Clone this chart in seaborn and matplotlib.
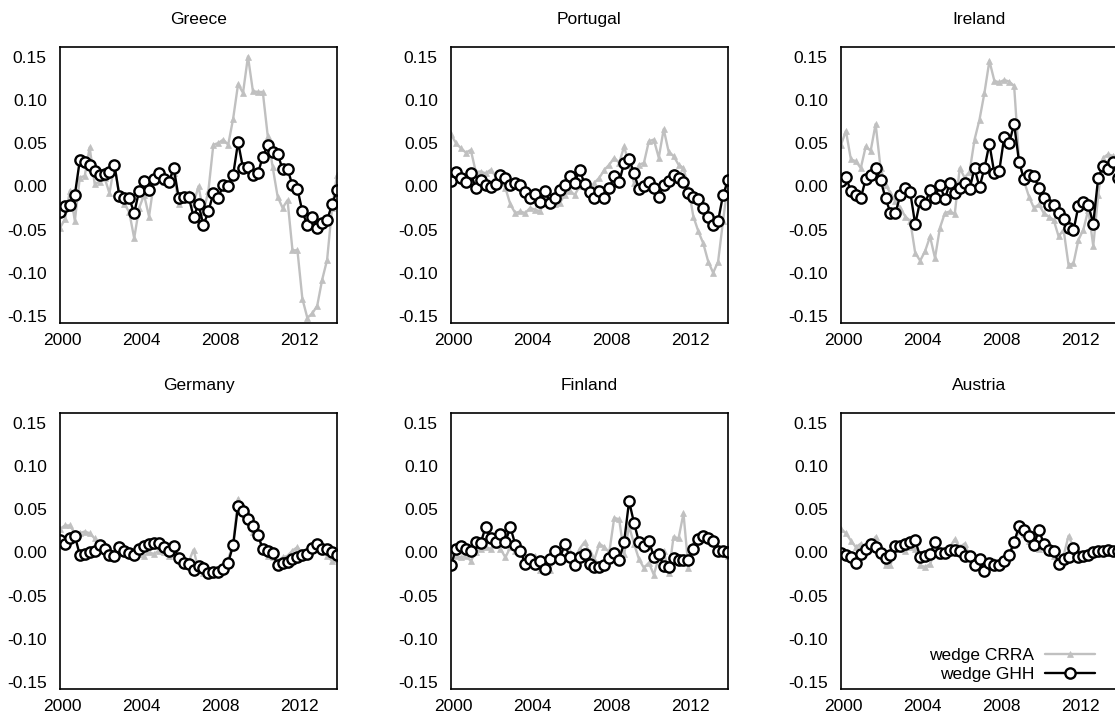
import numpy as np
import matplotlib
matplotlib.use("Agg")
import matplotlib.pyplot as plt
from matplotlib.ticker import FormatStrFormatter
from matplotlib.transforms import ScaledTranslation
import seaborn as sns

# Quarterly observations, 2000Q1 .. 2014Q1
quarters = 2000 + np.arange(57) / 4

greece_crra = [-0.048, -0.038, -0.005, -0.040, 0.010, 0.012, 0.045, 0.003, 0.005, 0.010,
               -0.008, 0.025, -0.010, -0.020, -0.030, -0.060, -0.025, -0.010, -0.035, 0.005,
               0.010, 0.005, 0.005, 0.015, -0.020, -0.010, -0.008, -0.020, 0.000, -0.030,
               -0.005, 0.048, 0.050, 0.054, 0.048, 0.078, 0.118, 0.108, 0.150, 0.110,
               0.109, 0.109, 0.058, 0.022, -0.012, -0.025, -0.016, -0.074, -0.074, -0.130,
               -0.152, -0.147, -0.138, -0.108, -0.085, -0.025, 0.013]
greece_ghh = [-0.030, -0.023, -0.022, -0.010, 0.030, 0.028, 0.025, 0.018, 0.0135, 0.014,
              0.017, 0.025, -0.011, -0.0135, -0.0135, -0.031, -0.005, 0.006, -0.004, 0.008,
              0.015, 0.009, 0.005, 0.021, -0.0135, -0.012, -0.012, -0.035, -0.021, -0.045,
              -0.029, -0.008, -0.0135, 0.002, 0.000, 0.013, 0.051, 0.021, 0.022, 0.013,
              0.015, 0.034, 0.048, 0.040, 0.037, 0.020, 0.020, 0.001, -0.003, -0.029,
              -0.045, -0.035, -0.048, -0.042, -0.039, -0.021, -0.004]

portugal_crra = [0.060, 0.050, 0.044, 0.039, 0.042, 0.017, 0.017, 0.015, 0.019, 0.012,
                 0.010, -0.002, -0.021, -0.031, -0.029, -0.031, -0.025, -0.027, -0.029, -0.015,
                 -0.019, -0.021, -0.019, -0.010, -0.005, -0.010, 0.000, 0.004, -0.004, 0.004,
                 0.010, 0.019, 0.025, 0.033, 0.027, 0.046, 0.025, 0.004, 0.025, 0.027,
                 0.052, 0.054, 0.033, 0.066, 0.040, 0.035, 0.025, 0.021, -0.002, -0.035,
                 -0.052, -0.066, -0.087, -0.100, -0.087, -0.040, 0.005]
portugal_ghh = [0.0066, 0.017, 0.010, 0.005, 0.015, -0.002, 0.007, 0.002, -0.001, 0.003,
                0.013, 0.010, 0.001, 0.004, 0.001, -0.007, -0.014, -0.009, -0.018, -0.005,
                -0.019, -0.0135, -0.004, 0.002, 0.012, 0.004, 0.019, 0.003, -0.007, -0.013,
                -0.005, -0.0135, -0.002, 0.012, 0.005, 0.027, 0.032, 0.015, -0.003, 0.000,
                0.005, -0.002, -0.012, 0.001, 0.006, 0.013, 0.010, 0.005, -0.008, -0.012,
                -0.015, -0.025, -0.036, -0.045, -0.040, -0.010, 0.007]

ireland_crra = [0.048, 0.064, 0.031, 0.029, 0.021, 0.046, 0.041, 0.072, 0.021, 0.002,
                -0.008, -0.017, -0.025, -0.035, -0.040, -0.077, -0.086, -0.075, -0.058, -0.083,
                -0.048, -0.031, -0.029, -0.032, 0.021, 0.010, 0.017, 0.054, 0.077, 0.108,
                0.145, 0.122, 0.120, 0.123, 0.121, 0.116, 0.031, 0.006, -0.012, -0.025,
                -0.021, -0.031, -0.035, -0.039, -0.058, -0.050, -0.091, -0.089, -0.062, -0.050,
                -0.027, -0.069, -0.010, 0.033, 0.037, 0.035, 0.035]
ireland_ghh = [0.006, 0.011, -0.006, -0.010, -0.0135, 0.008, 0.0135, 0.021, 0.007, -0.0135,
               -0.031, -0.031, -0.010, -0.002, -0.007, -0.044, -0.017, -0.020, -0.004, -0.0135,
               0.002, -0.015, 0.004, -0.008, -0.002, 0.004, -0.003, 0.021, -0.001, 0.021,
               0.049, 0.015, 0.018, 0.057, 0.050, 0.072, 0.028, 0.008, 0.013, 0.012,
               -0.002, -0.013, -0.022, -0.022, -0.031, -0.038, -0.048, -0.051, -0.023, -0.018,
               -0.022, -0.043, 0.010, 0.024, 0.020, 0.028, 0.010]

germany_crra = [0.027, 0.031, 0.031, 0.022, 0.022, 0.024, 0.022, 0.016, 0.008, 0.004,
                -0.002, -0.004, 0.004, 0.000, -0.001, -0.004, -0.002, -0.004, 0.000, -0.002,
                0.002, 0.000, -0.004, -0.002, -0.006, -0.010, -0.011, 0.003, -0.020, -0.024,
                -0.022, -0.020, -0.020, -0.016, -0.008, 0.010, 0.062, 0.054, 0.042, 0.024,
                0.020, 0.002, -0.004, -0.006, -0.010, -0.006, -0.004, 0.002, 0.006, -0.002,
                -0.002, 0.004, 0.008, 0.006, -0.004, -0.010, -0.008]
germany_ghh = [0.014, 0.010, 0.017, 0.019, -0.003, -0.002, 0.000, 0.002, 0.008, 0.004,
               -0.003, -0.004, 0.006, 0.001, -0.001, -0.003, 0.004, 0.007, 0.010, 0.011,
               0.011, 0.006, 0.002, 0.007, -0.007, -0.012, -0.013, -0.021, -0.016, -0.018,
               -0.024, -0.023, -0.023, -0.019, -0.012, 0.008, 0.054, 0.048, 0.039, 0.030,
               0.020, 0.004, 0.001, -0.001, -0.015, -0.012, -0.011, -0.008, -0.006, -0.003,
               -0.002, 0.005, 0.010, 0.004, 0.004, 0.000, -0.003]

finland_crra = [0.000, -0.004, -0.006, -0.004, -0.010, 0.000, 0.004, 0.006, 0.004, 0.008,
                0.004, -0.006, 0.006, 0.002, 0.000, -0.004, -0.006, -0.004, -0.020, -0.022,
                -0.020, -0.006, -0.008, -0.004, 0.000, -0.008, 0.004, 0.012, 0.000, -0.008,
                0.010, 0.006, 0.000, 0.040, 0.038, -0.002, 0.030, 0.010, -0.008, -0.018,
                -0.012, -0.026, -0.006, 0.002, -0.024, 0.018, 0.016, 0.045, -0.018, 0.010,
                0.020, 0.022, 0.016, 0.012, 0.004, 0.000, -0.004]
finland_ghh = [-0.015, 0.004, 0.007, 0.004, 0.002, 0.012, 0.011, 0.029, 0.016, 0.012,
               0.021, 0.012, 0.029, 0.009, 0.002, -0.0135, -0.008, -0.0135, -0.010, -0.019,
               -0.008, 0.001, -0.008, 0.010, -0.006, -0.015, -0.005, -0.002, -0.0135, -0.017,
               -0.017, -0.015, -0.007, -0.001, -0.009, 0.012, 0.059, 0.034, 0.012, 0.007,
               0.0135, -0.005, -0.002, -0.016, -0.017, -0.007, -0.009, -0.009, -0.009, 0.004,
               0.015, 0.019, 0.017, 0.0135, 0.001, 0.001, 0.000]

austria_crra = [0.027, 0.022, 0.0135, 0.006, 0.010, 0.006, 0.008, 0.018, -0.002, -0.015,
                -0.015, 0.006, 0.004, 0.002, 0.006, 0.004, -0.015, -0.017, -0.0135, 0.002,
                -0.004, 0.002, 0.006, 0.015, 0.006, 0.010, -0.004, -0.010, -0.006, -0.017,
                -0.010, -0.010, -0.012, -0.006, -0.002, 0.008, 0.027, 0.021, 0.0135, 0.010,
                0.004, 0.006, 0.010, -0.004, -0.008, -0.004, 0.019, 0.006, 0.002, -0.002,
                -0.004, 0.002, 0.000, 0.000, 0.002, 0.000, 0.002]
austria_ghh = [-0.001, -0.003, -0.006, -0.012, -0.002, 0.004, 0.010, 0.006, -0.001, -0.007,
               -0.003, 0.007, 0.007, 0.010, 0.012, 0.014, -0.005, -0.004, -0.002, 0.012,
               -0.001, -0.001, 0.003, 0.003, 0.001, -0.004, -0.004, -0.015, -0.008, -0.022,
               -0.012, -0.015, -0.015, -0.010, -0.003, 0.012, 0.030, 0.026, 0.019, 0.008,
               0.026, 0.010, 0.003, 0.002, -0.013, -0.008, -0.005, 0.005, -0.006, -0.004,
               -0.003, 0.000, 0.002, 0.002, 0.003, 0.001, 0.001]

countries = ["Greece", "Portugal", "Ireland", "Germany", "Finland", "Austria"]
crra_series = [greece_crra, portugal_crra, ireland_crra, germany_crra, finland_crra, austria_crra]
ghh_series = [greece_ghh, portugal_ghh, ireland_ghh, germany_ghh, finland_ghh, austria_ghh]
year_ticks = [2000, 2004, 2008, 2012]
wedge_ticks = [-0.15, -0.10, -0.05, 0.00, 0.05, 0.10, 0.15]
legend_labels = ["wedge CRRA", "wedge GHH"]

sns.set_style("white")
plt.rcParams["font.family"] = ["Liberation Sans", "DejaVu Sans"]
plt.rcParams["axes.unicode_minus"] = False

W, H = 1115, 715
fig = plt.figure(figsize=(W / 100, H / 100), dpi=100)

col_left = [60, 451, 841]
row_top = [47, 413]
ax_w, ax_h = 277, 276
fs = 12.5

gray = "#c0c0c0"
for k, name in enumerate(countries):
    r, c = divmod(k, 3)
    left = col_left[c] / W
    bottom = (H - row_top[r] - ax_h) / H
    ax = fig.add_axes([left, bottom, ax_w / W, ax_h / H])

    sns.lineplot(x=quarters, y=crra_series[k], ax=ax, color=gray, lw=1.7,
                 marker="^", markersize=5, markerfacecolor=gray,
                 markeredgecolor=gray, markeredgewidth=0.5, legend=False)
    sns.lineplot(x=quarters, y=ghh_series[k], ax=ax, color="black", lw=1.7,
                 marker="o", markersize=7.4, markerfacecolor="white",
                 markeredgecolor="black", markeredgewidth=1.7, legend=False)

    ax.set_xlim(2000, 2014)
    ax.set_ylim(-0.158, 0.161)
    ax.set_xticks(year_ticks)
    ax.set_yticks(wedge_ticks)
    ax.yaxis.set_major_formatter(FormatStrFormatter("%.2f"))
    ax.tick_params(axis="both", length=0, labelsize=fs, colors="black")
    ax.tick_params(axis="x", pad=7)
    ax.tick_params(axis="y", pad=9.5)
    # year labels sit slightly right of their tick positions
    shift = ScaledTranslation(2.5 / 100, 0, fig.dpi_scale_trans)
    for lab in ax.get_xticklabels():
        lab.set_transform(lab.get_transform() + shift)
    ax.set_xlabel("")
    ax.set_ylabel("")
    ax.set_title(name, fontsize=fs, pad=16.5, color="black")
    for sp in ax.spines.values():
        sp.set_visible(True)
        sp.set_color("black")
        sp.set_linewidth(1.2)

    if name == "Austria":
        lines = ax.get_lines()
        leg = ax.legend(lines[:2], legend_labels, loc="lower right",
                        bbox_to_anchor=(0.917, 0.025), markerfirst=False, frameon=False,
                        fontsize=fs, handlelength=2.9, handletextpad=0.6,
                        labelspacing=0.25, borderaxespad=0, borderpad=0, numpoints=1)
        for t in leg.get_texts():
            t.set_color("black")

fig.savefig("out.png", dpi=100)
